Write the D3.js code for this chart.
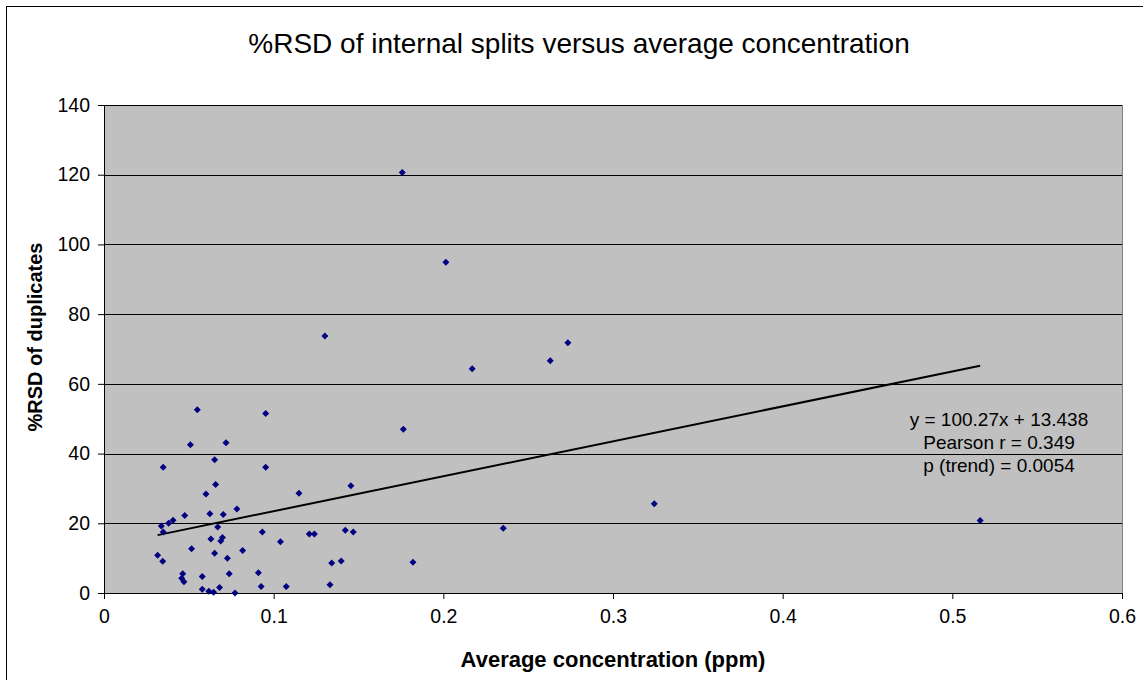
<!DOCTYPE html>
<html>
<head>
<meta charset="utf-8">
<script src="https://cdn.jsdelivr.net/npm/d3@7"></script>
<style>
  body { margin: 0; background: #fff; }
  text { font-family: "Liberation Sans", Arial, sans-serif; fill: #000; }
</style>
</head>
<body>
<div id="canvas"></div>
<script>
// average concentration (ppm)
var concentration = [0.0316, 0.0338, 0.0349, 0.0346, 0.0349, 0.0381, 0.0407, 0.0458, 0.0464, 0.0471,
  0.0476, 0.0509, 0.0516, 0.0550, 0.0579, 0.0579, 0.0601, 0.0618, 0.0624, 0.0630,
  0.0646, 0.0652, 0.0652, 0.0658, 0.0670, 0.0681, 0.0688, 0.0698, 0.0703, 0.0719,
  0.0727, 0.0738, 0.0772, 0.0783, 0.0817, 0.0910, 0.0926, 0.0933, 0.0953, 0.0953,
  0.1040, 0.1074, 0.1149, 0.1210, 0.1240, 0.1302, 0.1332, 0.1342, 0.1398, 0.1422,
  0.1455, 0.1469, 0.1758, 0.1764, 0.1821, 0.2015, 0.2170, 0.2353, 0.2630, 0.2734,
  0.3243, 0.5164];
// %RSD of duplicates
var rsd = [10.8, 19.2, 17.5, 9.1, 36.1, 20.0, 20.9, 4.2, 5.5, 3.2,
  22.2, 42.5, 12.7, 52.6, 4.7, 1.1, 28.4, 0.5, 22.7, 15.5,
  0.2, 38.2, 11.4, 31.1, 18.9, 1.6, 14.9, 15.9, 22.5, 43.1,
  10.0, 5.5, 0.0, 24.1, 12.2, 5.8, 1.9, 17.5, 51.5, 36.1,
  14.7, 1.9, 28.6, 16.9, 16.9, 73.7, 2.4, 8.6, 9.2, 18.0,
  30.8, 17.5, 120.6, 47.0, 8.8, 94.9, 64.3, 18.6, 66.6, 71.8,
  25.6, 20.8];

var xTicks = [0, 0.1, 0.2, 0.3, 0.4, 0.5, 0.6];
var yTicks = [0, 20, 40, 60, 80, 100, 120, 140];
var slope = 100.27, intercept = 13.438;
var statLines = ["y = 100.27x + 13.438", "Pearson r = 0.349", "p (trend) = 0.0054"];

var width = 1143, height = 680;
var plotLeft = 104, plotRight = 1122, plotTop = 105, plotBottom = 593;

var svg = d3.select("#canvas").append("svg")
  .attr("width", width)
  .attr("height", height);

// chart border
svg.append("rect").attr("x", 6.5).attr("y", 6.5)
  .attr("width", width + 20).attr("height", height + 20)
  .attr("fill", "#fff").attr("stroke", "#000");

var x = d3.scaleLinear().domain([0, 0.6]).range([plotLeft, plotRight]);
var y = d3.scaleLinear().domain([0, 140]).range([plotBottom, plotTop]);

// plot area
svg.append("rect").attr("x", plotLeft).attr("y", plotTop)
  .attr("width", plotRight - plotLeft).attr("height", plotBottom - plotTop)
  .attr("fill", "#c0c0c0").attr("stroke", "#808080")
  .attr("shape-rendering", "crispEdges");

// gridlines
svg.append("g").selectAll("line").data(yTicks.slice(1)).join("line")
  .attr("x1", plotLeft).attr("x2", plotRight)
  .attr("y1", function(d){ return Math.round(y(d)) + 0.5; })
  .attr("y2", function(d){ return Math.round(y(d)) + 0.5; })
  .attr("stroke", "#000").attr("stroke-width", 1);

// axes
var yAxis = svg.append("g").attr("transform", "translate(" + plotLeft + ",0)")
  .call(d3.axisLeft(y).tickValues(yTicks).tickSize(6).tickPadding(8).tickFormat(d3.format("d")));
var xAxis = svg.append("g").attr("transform", "translate(0," + plotBottom + ")")
  .call(d3.axisBottom(x).tickValues(xTicks).tickSize(6).tickPadding(10)
    .tickFormat(function(d){ return d === 0 ? "0" : d3.format(".1f")(d); }));
[yAxis, xAxis].forEach(function(a){
  a.select(".domain").attr("stroke", "#000");
  a.selectAll(".tick line").attr("stroke", "#000");
  a.selectAll("text").attr("font-size", 19.5).attr("font-family", "Liberation Sans, Arial, sans-serif").attr("fill", "#000");
});

// trend line
var xMin = d3.min(concentration), xMax = d3.max(concentration);
svg.append("line")
  .attr("x1", x(xMin)).attr("y1", y(slope * xMin + intercept))
  .attr("x2", x(xMax)).attr("y2", y(slope * xMax + intercept))
  .attr("stroke", "#000").attr("stroke-width", 2);

// points
var pts = concentration.map(function(c, i){ return [c, rsd[i]]; });
svg.append("g").selectAll("path").data(pts).join("path")
  .attr("transform", function(d){ return "translate(" + x(d[0]) + "," + y(d[1]) + ")"; })
  .attr("d", "M0,-3.5L3.5,0L0,3.5L-3.5,0Z")
  .attr("fill", "#000080");

// stats text
svg.append("g").selectAll("text").data(statLines).join("text")
  .attr("x", 999).attr("y", function(d, i){ return 426 + i * 23; })
  .attr("text-anchor", "middle").attr("font-size", 19)
  .text(function(d){ return d; });

// titles
svg.append("text").attr("x", 579).attr("y", 53).attr("text-anchor", "middle")
  .attr("font-size", 28).text("%RSD of internal splits versus average concentration");
svg.append("text").attr("x", 613).attr("y", 667).attr("text-anchor", "middle")
  .attr("font-size", 22).attr("font-weight", "bold").text("Average concentration (ppm)");
svg.append("text").attr("transform", "translate(42,337) rotate(-90)")
  .attr("text-anchor", "middle").attr("font-size", 20).attr("font-weight", "bold")
  .text("%RSD of duplicates");
</script>
</body>
</html>
